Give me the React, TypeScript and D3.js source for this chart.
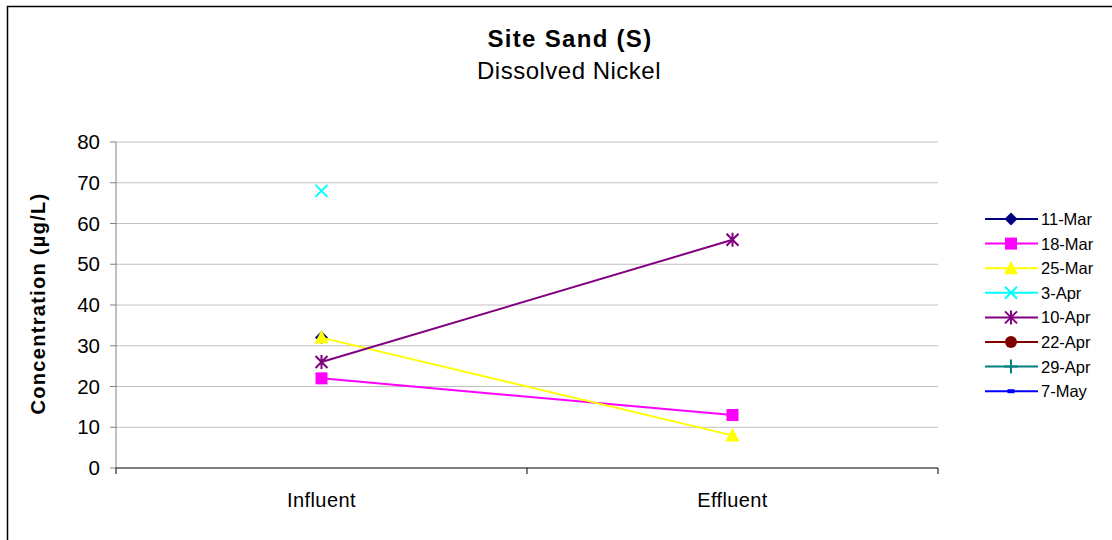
import React from "react";
import * as d3 from "d3";

const categories = ["Influent", "Effluent"];
const seriesNames = ["11-Mar", "18-Mar", "25-Mar", "3-Apr", "10-Apr", "22-Apr", "29-Apr", "7-May"];
const seriesColors = ["#000080", "#FF00FF", "#FFFF00", "#00FFFF", "#800080", "#800000", "#008080", "#0000FF"];
const seriesMarkers = ["diamond", "square", "triangle", "x", "star", "circle", "plus", "dash"];
const influentValues: (number | null)[] = [32, 22, 32, 68, 26, null, null, null];
const effluentValues: (number | null)[] = [null, 13, 8, null, 56, null, null, null];
const yTicks = [0, 10, 20, 30, 40, 50, 60, 70, 80];

function Marker({ type, x, y, color }: { type: string; x: number; y: number; color: string }) {
  const s = 6.5;
  switch (type) {
    case "diamond":
      return <path d={`M${x},${y - s}L${x + s},${y}L${x},${y + s}L${x - s},${y}Z`} fill={color} />;
    case "square":
      return <rect x={x - 6} y={y - 6} width={12} height={12} fill={color} />;
    case "triangle":
      return <path d={`M${x},${y - 7.5}L${x + 7},${y + 6}L${x - 7},${y + 6}Z`} fill={color} />;
    case "x":
      return <path d={`M${x - 6},${y - 6}L${x + 6},${y + 6}M${x - 6},${y + 6}L${x + 6},${y - 6}`} stroke={color} strokeWidth={2} />;
    case "star":
      return (
        <path
          d={`M${x - 6},${y - 6}L${x + 6},${y + 6}M${x - 6},${y + 6}L${x + 6},${y - 6}M${x},${y - 7}L${x},${y + 7}`}
          stroke={color}
          strokeWidth={2}
        />
      );
    case "circle":
      return <circle cx={x} cy={y} r={6} fill={color} />;
    case "plus":
      return <path d={`M${x},${y - 7}L${x},${y + 7}M${x - 7},${y}L${x + 7},${y}`} stroke={color} strokeWidth={2} />;
    case "dash":
      return <rect x={x - 3.5} y={y - 2} width={7} height={4} fill={color} />;
    default:
      return null;
  }
}

export default function App() {
  const width = 1112;
  const height = 540;
  const left = 116, right = 938, top = 142, bottom = 468;
  const x = d3.scaleBand().domain(categories).range([left, right]);
  const y = d3.scaleLinear().domain([0, 80]).range([bottom, top]);
  const cx = (c: string) => (x(c) as number) + x.bandwidth() / 2;
  const font = "'Liberation Sans', Arial, sans-serif";
  const lineGen = d3
    .line<{ c: string; v: number }>()
    .x((d) => cx(d.c))
    .y((d) => y(d.v));

  return (
    <div style={{ position: "absolute", left: 0, top: 0 }}>
      <svg width={width} height={height} style={{ display: "block", fontFamily: font }}>
        <rect x={0} y={0} width={width} height={height} fill="#fff" />
        <rect x={7.5} y={6.5} width={width + 10} height={height + 10} fill="none" stroke="#000" strokeWidth={1.5} />
        <text x={570} y={47} textAnchor="middle" fontSize={24} fontWeight="bold" letterSpacing={1.3}>Site Sand (S)</text>
        <text x={569} y={79} textAnchor="middle" fontSize={24} letterSpacing={0.5}>Dissolved Nickel</text>

        {yTicks.map((t) => (
          <g key={t}>
            {t > 0 && <line x1={left} x2={right} y1={y(t)} y2={y(t)} stroke="#C0C0C0" strokeWidth={1} />}
            <line x1={left - 6} x2={left} y1={y(t)} y2={y(t)} stroke="#808080" />
            <text x={100} y={y(t) + 7} textAnchor="end" fontSize={20.5}>{t}</text>
          </g>
        ))}
        <line x1={left} x2={left} y1={top} y2={bottom} stroke="#808080" />
        <line x1={left} x2={right} y1={bottom} y2={bottom} stroke="#000" />
        {[left, left + x.bandwidth(), right].map((px, i) => (
          <line key={i} x1={px} x2={px} y1={bottom} y2={bottom + 6} stroke="#000" />
        ))}
        {categories.map((c) => (
          <text key={c} x={cx(c)} y={506.5} textAnchor="middle" fontSize={20} letterSpacing={0.4}>{c}</text>
        ))}
        <text
          transform={`translate(45,303.5) rotate(-90)`}
          textAnchor="middle"
          fontSize={20}
          fontWeight="bold"
          letterSpacing={1.3}
        >
          Concentration (µg/L)
        </text>

        {seriesNames.map((name, i) => {
          const pts: { c: string; v: number }[] = [];
          if (influentValues[i] != null) pts.push({ c: categories[0], v: influentValues[i] as number });
          if (effluentValues[i] != null) pts.push({ c: categories[1], v: effluentValues[i] as number });
          return (
            <g key={name}>
              {pts.length > 1 && <path d={lineGen(pts) || ""} fill="none" stroke={seriesColors[i]} strokeWidth={2} />}
              {pts.map((p) => (
                <Marker key={p.c} type={seriesMarkers[i]} x={cx(p.c)} y={y(p.v)} color={seriesColors[i]} />
              ))}
            </g>
          );
        })}

        {seriesNames.map((name, i) => {
          const ly = 219 + i * 24.6;
          return (
            <g key={name}>
              <line x1={985} x2={1038} y1={ly} y2={ly} stroke={seriesColors[i]} strokeWidth={2} />
              <Marker type={seriesMarkers[i]} x={1011} y={ly} color={seriesColors[i]} />
              <text x={1041} y={ly + 6} fontSize={16.5}>{name}</text>
            </g>
          );
        })}
      </svg>
    </div>
  );
}
